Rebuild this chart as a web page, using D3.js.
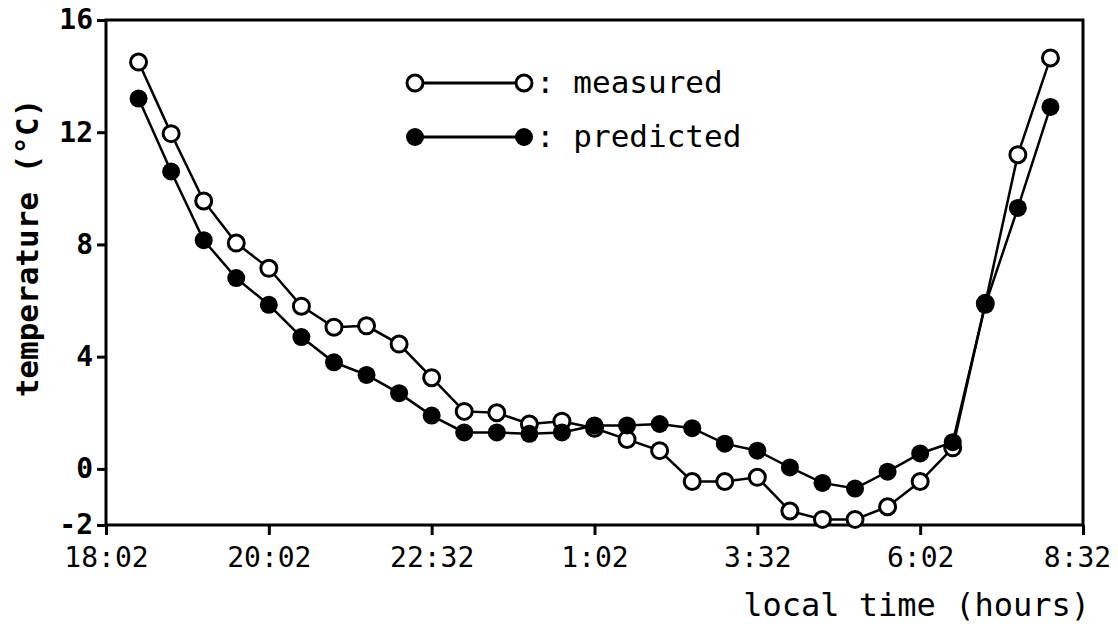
<!DOCTYPE html>
<html>
<head>
<meta charset="utf-8">
<script src="https://cdn.jsdelivr.net/npm/d3@7"></script>
<style>
  body { margin: 0; background: #fff; }
  text { font-family: "DejaVu Sans Mono", "Liberation Mono", monospace; fill: #000; }
</style>
</head>
<body>
<div id="chart-area"></div>
<script>
// minutes after 18:02
const times = [30, 60, 90, 120, 150, 180, 210, 240, 270, 300, 330, 360, 390, 420, 450,
               480, 510, 540, 570, 600, 630, 660, 690, 720, 750, 780, 810, 840, 870]

const measured = [14.5, 11.95, 9.55, 8.05, 7.15, 5.8, 5.05, 5.1, 4.45, 3.25, 2.05, 2.0, 1.6, 1.7, 1.45,
                  1.05, 0.65, -0.45, -0.45, -0.3, -1.5, -1.8, -1.8, -1.35, -0.45, 0.75, 5.9, 11.2, 14.65]

const predicted = [13.2, 10.6, 8.15, 6.8, 5.85, 4.7, 3.8, 3.35, 2.7, 1.9, 1.3, 1.3, 1.25, 1.3, 1.55,
                   1.55, 1.6, 1.45, 0.9, 0.65, 0.05, -0.5, -0.7, -0.1, 0.55, 0.95, 5.85, 9.3, 12.9]

const tickMinutes = [0, 150, 300, 450, 600, 750, 900]
const tickLabels = ["18:02", "20:02", "22:32", "1:02", "3:32", "6:02", "8:32"]
const yTicks = [-2, 0, 4, 8, 12, 16]

const w = 1118
const h = 644

const svg = d3.select("#chart-area")
  .append("svg")
  .attr("width", w)
  .attr("height", h)

const x = d3.scaleLinear().domain([0, 900]).range([106, 1083])
const y = d3.scaleLinear().domain([-2, 16]).range([525, 20])

// frame
svg.append("rect")
  .attr("x", x(0))
  .attr("y", y(16))
  .attr("width", x(900) - x(0))
  .attr("height", y(-2) - y(16))
  .attr("fill", "none")
  .attr("stroke", "#000")
  .attr("stroke-width", 3)

const xAxis = svg.append("g")
  .attr("transform", "translate(0," + y(-2) + ")")
  .call(d3.axisBottom(x)
    .tickValues(tickMinutes)
    .tickFormat((d, i) => tickLabels[i])
    .tickSize(10)
    .tickPadding(12))

xAxis.select(".domain").remove()
xAxis.selectAll("line").attr("stroke-width", 3)
xAxis.selectAll("text")
  .style("font-size", "28px")
  .attr("fill", "#000")
  .attr("dx", (d, i) => i === tickLabels.length - 1 ? -6 : 0)

const yAxis = svg.append("g")
  .attr("transform", "translate(" + x(0) + ",0)")
  .call(d3.axisLeft(y)
    .tickValues(yTicks)
    .tickFormat((d) => String(d))
    .tickSize(9)
    .tickPadding(4))

yAxis.select(".domain").remove()
yAxis.selectAll("line").attr("stroke-width", 3)
yAxis.selectAll("text")
  .style("font-size", "28px")
  .style("font-weight", "bold")
  .attr("fill", "#000")

svg.append("text")
  .attr("transform", "translate(38,248) rotate(-90)")
  .attr("text-anchor", "middle")
  .style("font-size", "31px")
  .style("font-weight", "bold")
  .text("temperature (°C)")

svg.append("text")
  .attr("x", 1090)
  .attr("y", 616)
  .attr("text-anchor", "end")
  .style("font-size", "32px")
  .text("local time (hours)")

const line = d3.line()
  .x((d, i) => x(times[i]))
  .y((d) => y(d))

svg.append("path")
  .datum(predicted)
  .attr("d", line)
  .attr("fill", "none")
  .attr("stroke", "#000")
  .attr("stroke-width", 2.5)

svg.append("path")
  .datum(measured)
  .attr("d", line)
  .attr("fill", "none")
  .attr("stroke", "#000")
  .attr("stroke-width", 2.5)

svg.selectAll(".meas")
  .data(measured)
  .enter()
  .append("circle")
  .attr("class", "meas")
  .attr("cx", (d, i) => x(times[i]))
  .attr("cy", (d) => y(d))
  .attr("r", 8)
  .attr("fill", "#fff")
  .attr("stroke", "#000")
  .attr("stroke-width", 3)

svg.selectAll(".pred")
  .data(predicted)
  .enter()
  .append("circle")
  .attr("class", "pred")
  .attr("cx", (d, i) => x(times[i]))
  .attr("cy", (d) => y(d))
  .attr("r", 9)
  .attr("fill", "#000")

// legend
const legend = svg.append("g")
const rows = [
  { label: ": measured", fill: "#fff", r: 8, y: 83 },
  { label: ": predicted", fill: "#000", r: 9, y: 137 }
]

rows.forEach(function (row) {
  legend.append("line")
    .attr("x1", 415).attr("x2", 524)
    .attr("y1", row.y).attr("y2", row.y)
    .attr("stroke", "#000")
    .attr("stroke-width", 3)
  ;[415, 524].forEach(function (cx) {
    legend.append("circle")
      .attr("cx", cx)
      .attr("cy", row.y)
      .attr("r", row.r)
      .attr("fill", row.fill)
      .attr("stroke", "#000")
      .attr("stroke-width", row.fill === "#fff" ? 3 : 0)
  })
  legend.append("text")
    .attr("x", 536)
    .attr("y", row.y + 10)
    .style("font-size", "31px")
    .text(row.label)
})
</script>
</body>
</html>
